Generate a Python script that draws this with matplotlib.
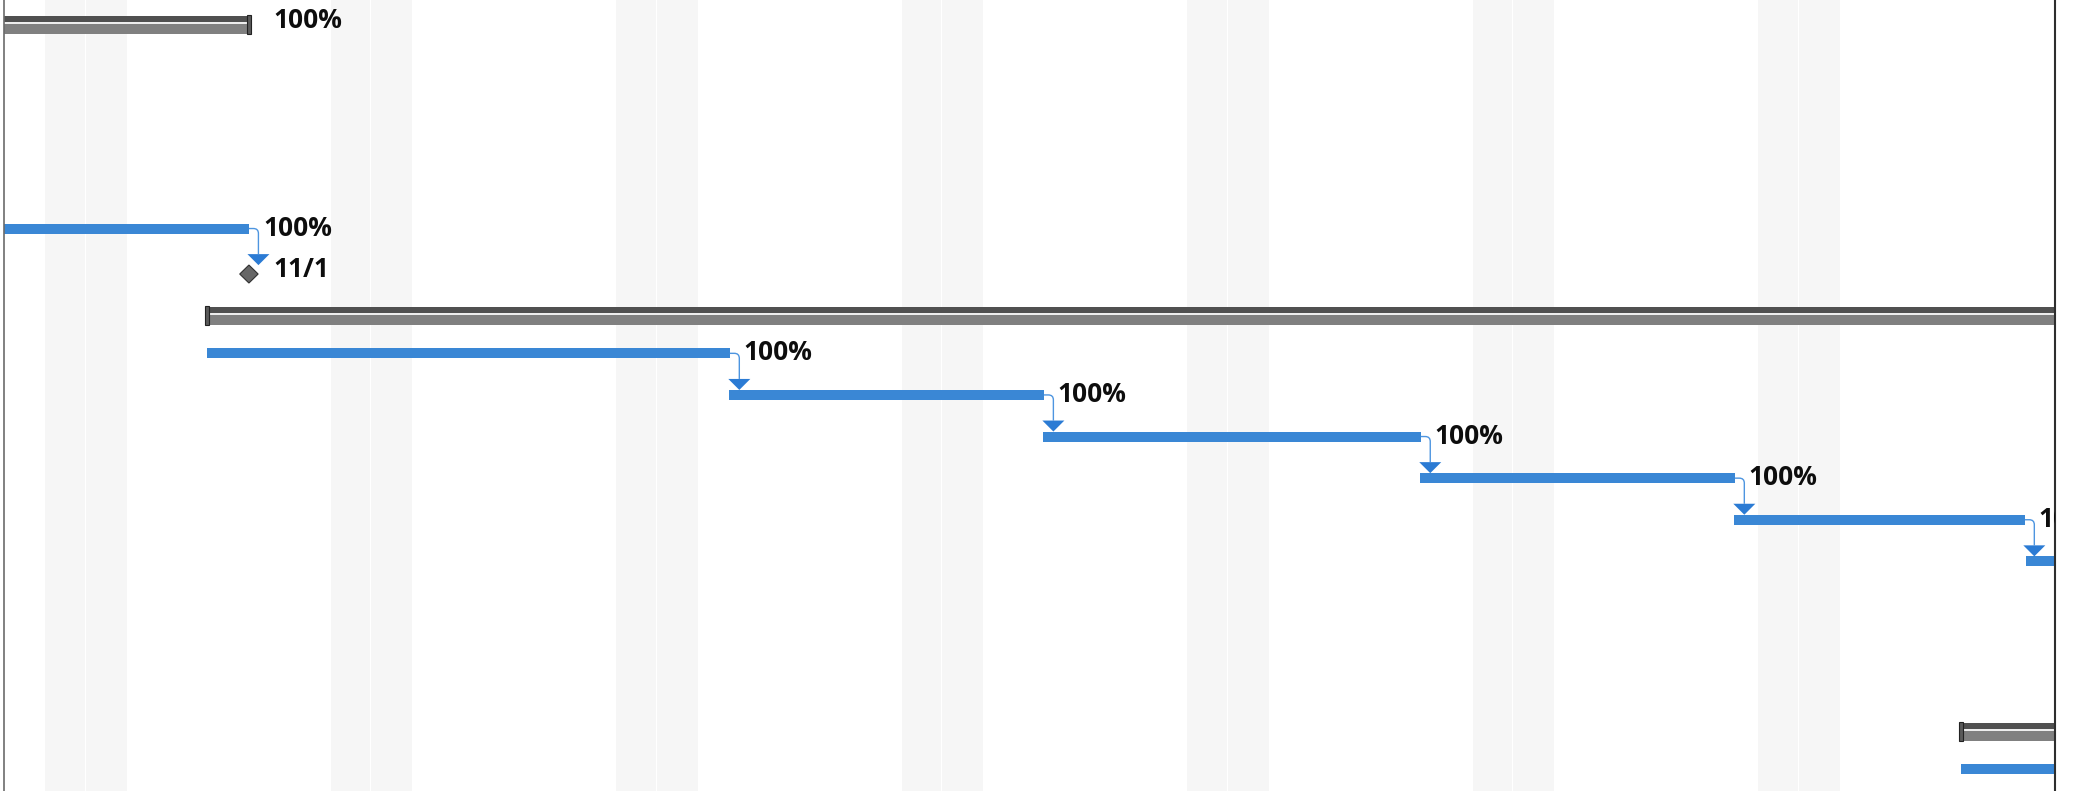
import matplotlib
matplotlib.use('Agg')
import matplotlib.pyplot as plt
from matplotlib.patches import Rectangle, Polygon, PathPatch
from matplotlib.path import Path

# x = days after Sat 27 Oct 2018 00:00, y = row of the gantt table
weekend_saturdays = [0, 7, 14, 21, 28, 35, 42]

summary_rows = [0, 7, 17]
summary_start = [-3.0, 3.98, 46.97]
summary_finish = [5.0, 53.0, 53.0]
summary_pct = ['100%', '', '']

task_rows = [5, 8, 9, 10, 11, 12, 13, 18]
task_start = [-3.0, 3.98, 16.77, 24.48, 33.71, 41.42, 48.58, 46.97]
task_finish = [5.0, 16.79, 24.49, 33.73, 41.43, 48.54, 53.0, 53.0]
task_pct = ['100%', '100%', '100%', '100%', '100%', '100%', '', '']

milestone_rows = [6]
milestone_day = [5.0]
milestone_labels = ['11/1']

# predecessor row -> successor row
links = [(5, 6), (8, 9), (9, 10), (10, 11), (11, 12), (12, 13)]

PX_DAY = 40.79   # pixels per day
PX_ROW = 41.6    # pixels per row


def dx(px):
    return px / PX_DAY


def dy(px):
    return px / PX_ROW


BAR_BLUE = '#3a87d5'
LINK_BLUE = '#4d95e0'
ARROW_BLUE = '#2b7bd4'
FONT = dict(fontsize=19, fontweight='bold', family=['Open Sans', 'DejaVu Sans'],
            color='#0d0d0d', va='baseline', ha='left', clip_on=True)

fig = plt.figure(figsize=(20.73, 7.91), dpi=100)
ax = fig.add_axes([4 / 2073, 0, (2055 - 4) / 2073, 1])
ax.set_xlim(-1.005, 49.28)
ax.set_ylim(18.52, -0.493)
ax.set_xticks([])
ax.set_yticks([])
ax.spines['top'].set_visible(False)
ax.spines['bottom'].set_visible(False)
ax.spines['left'].set_color('#6b6b6b')
ax.spines['left'].set_linewidth(1.2)
ax.spines['right'].set_color('#2e2e2e')
ax.spines['right'].set_linewidth(1.5)

# weekend shading (sat + sun, thin white split)
for s in weekend_saturdays:
    ax.axvspan(s, s + 1 - dx(1), color='#f6f6f6', lw=0, zorder=0)
    ax.axvspan(s + 1, s + 2, color='#f6f6f6', lw=0, zorder=0)

# summary bars
for r, s, f, pct in zip(summary_rows, summary_start, summary_finish, summary_pct):
    ax.add_patch(Rectangle((s, r - dy(4.8)), f - s, dy(6.3), color='#505050', lw=0, zorder=2))
    ax.add_patch(Rectangle((s, r + dy(1.5)), f - s, dy(2), color='#ededed', lw=0, zorder=2))
    ax.add_patch(Rectangle((s, r + dy(3.5)), f - s, dy(9.5), color='#808080', lw=0, zorder=2))
    for x in (s, f):
        ax.add_patch(Rectangle((x - dx(2), r - dy(5.3)), dx(4), dy(18.6),
                               fc='#5a5a5a', ec='#222222', lw=0.8, zorder=3))
    if pct:
        ax.text(f + dx(24), r + dy(7), pct, **FONT)

# task bars
finish_of = dict(zip(task_rows, task_finish))
for r, s, f, pct in zip(task_rows, task_start, task_finish, task_pct):
    ax.add_patch(Rectangle((s, r - dy(5)), f - s, dy(10), color=BAR_BLUE, lw=0, zorder=2))
    if pct:
        ax.text(f + dx(14), r + dy(7), pct, **FONT)

# milestones
for r, m, lab in zip(milestone_rows, milestone_day, milestone_labels):
    cy = r + dy(3.9)
    ax.add_patch(Polygon([(m - dx(9.2), cy), (m, cy - dy(9)), (m + dx(9.2), cy), (m, cy + dy(9))],
                         closed=True, fc='#676767', ec='#303030', lw=0.8, zorder=3))
    ax.text(m + dx(24), r + dy(7), lab, **FONT)

# finish-to-start links
for a, b in links:
    x0 = finish_of[a]
    xa = x0 + dx(9.5)
    apex = b - dy(5)
    tri_top = apex - dy(11)
    verts = [(x0, a), (xa - dx(5), a), (xa, a), (xa, a + dy(5)), (xa, tri_top)]
    codes = [Path.MOVETO, Path.LINETO, Path.CURVE3, Path.CURVE3, Path.LINETO]
    ax.add_patch(PathPatch(Path(verts, codes), fc='none', ec=LINK_BLUE, lw=1.0, zorder=4))
    ax.add_patch(Polygon([(xa - dx(11), tri_top), (xa + dx(11), tri_top), (xa, apex)],
                         closed=True, color=ARROW_BLUE, lw=0, zorder=4))

fig.savefig('out.png', dpi=100)
